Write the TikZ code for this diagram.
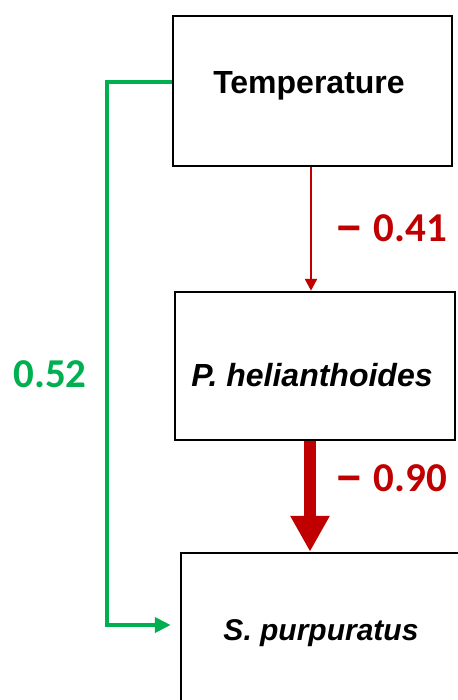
\documentclass[tikz,border=0pt]{standalone}
\usepackage{fontspec}
\setmainfont{Liberation Sans}
\newfontfamily\numfont{Carlito}
\usetikzlibrary{arrows.meta}
\definecolor{pathred}{HTML}{C00000}
\definecolor{pathgreen}{HTML}{00B050}
\newcommand{\negsign}{\raisebox{-2.5pt}{\scalebox{1.45}[1.3]{–}}}
\tikzset{
  varbox/.style={draw=black, line width=2.5pt, fill=white, minimum width=279pt,
    minimum height=150pt, inner sep=0pt},
  varname/.style={inner sep=0pt, font=\fontsize{32}{38}\selectfont\bfseries},
  coef/.style={font=\numfont\fontsize{41}{48}\selectfont\bfseries, inner sep=0pt},
  thinpath/.style={draw=pathred, line width=2.5pt, -{Triangle[width=12pt,length=12pt]}},
  thickpath/.style={draw=pathred, fill=pathred, line width=12pt, -{Triangle[width=37pt,length=36pt]}},
  greenpath/.style={draw=pathgreen, line width=4pt, -{Triangle[width=15pt,length=16pt]}}
}
\begin{document}
\begin{tikzpicture}[x=1pt, y=-1pt]
  \useasboundingbox (0,0) rectangle (457,700);
  \fill[white] (0,0) rectangle (457,700);

  % variable boxes
  \node[varbox] (T) at (312.5,91) {};
  \node[varbox, minimum width=280pt, minimum height=148pt] (P) at (315,366) {};
  \node[varbox] (S) at (320.5,628) {};

  % variable names
  \node[varname] (Tname) at (309,86) {Temperature};
  \node[varname] (Pname) at (312,375) {\textit{P. helianthoides}};
  \node[varname, font=\fontsize{30}{36}\selectfont\bfseries] (Sname) at (321,633) {\textit{S. purpuratus}};

  % direct effects
  \draw[thinpath] ([xshift=-1.5pt]T.south) -- ([xshift=-1.5pt]T.south |- P.north);
  \draw[thickpath] ([xshift=-5pt]P.south) -- ([xshift=-5pt]P.south |- S.north);
  \draw[greenpath] ([yshift=9pt]T.west) -- ++(-65,0) |- ([xshift=-9pt,yshift=3pt]S.west);

  % path coefficients
  \node[coef, text=pathred] (c1) at (391,229) {\negsign\ 0.41};
  \node[coef, text=pathred] (c2) at (391,479) {\negsign\ 0.90};
  \node[coef, text=pathgreen] (c3) at (50,374) {0.52};
\end{tikzpicture}
\end{document}
